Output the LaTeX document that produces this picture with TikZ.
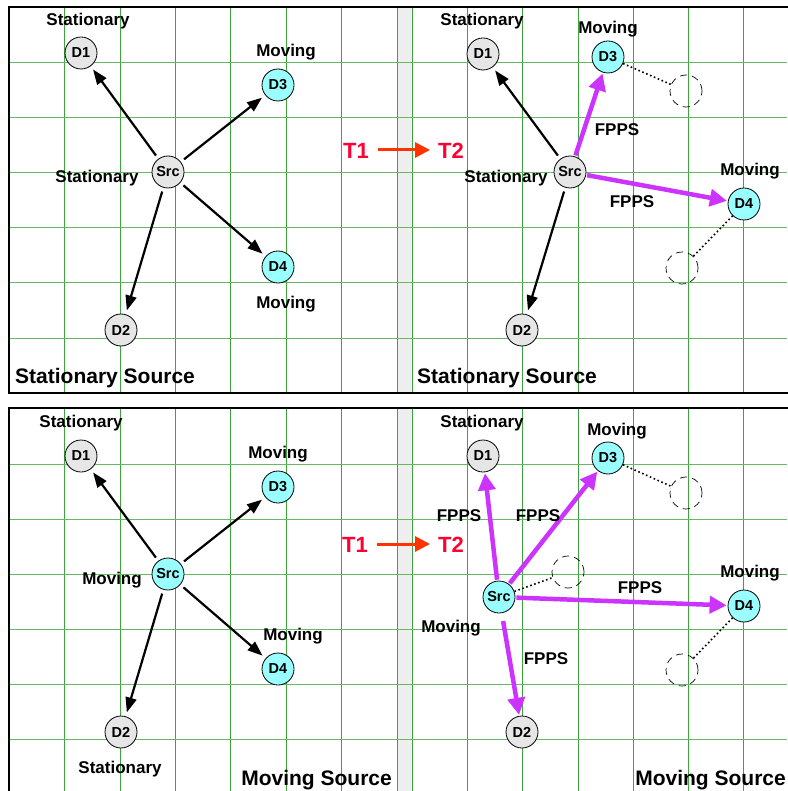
\documentclass[tikz,border=0pt]{standalone}
\usepackage{fontspec}
\setmainfont{Liberation Sans}
\usetikzlibrary{arrows.meta}
\definecolor{gridv}{RGB}{60,165,60}
\definecolor{gridh}{RGB}{100,185,100}
\definecolor{cyanfill}{RGB}{153,255,255}
\definecolor{grayfill}{RGB}{230,230,230}
\definecolor{fpps}{RGB}{204,51,255}
\definecolor{tred}{RGB}{255,0,51}
\definecolor{tarrow}{RGB}{255,51,0}
\definecolor{barfill}{RGB}{238,238,238}
\tikzset{
  dev/.style={circle,draw=black,line width=0.8pt,minimum size=32pt,inner sep=0pt,font=\bfseries\fontsize{14.5}{16}\selectfont},
  statdev/.style={dev,fill=grayfill},
  movdev/.style={dev,fill=cyanfill},
  ghost/.style={circle,draw=black,line width=0.7pt,dash pattern=on 7pt off 5pt,minimum size=32pt,inner sep=0pt},
  lbl/.style={font=\bfseries\fontsize{17}{19}\selectfont,inner sep=0pt},
  biglbl/.style={font=\bfseries\fontsize{21}{23}\selectfont,inner sep=0pt},
  tlbl/.style={font=\bfseries\fontsize{22}{24}\selectfont,text=tred,inner sep=0pt},
  link/.style={-{Triangle[length=15pt,width=11pt]},line width=2.2pt,shorten <=4pt,shorten >=4pt},
  fastlink/.style={-{Triangle[length=17pt,width=17pt]},draw=fpps,line width=4.5pt,shorten <=1pt,shorten >=1pt},
  trail/.style={line width=1.6pt,dash pattern=on 1.6pt off 2.6pt},
  timearrow/.style={-{Triangle[length=15pt,width=15pt]},draw=tarrow,line width=3pt},
  frame/.style={line width=2.5pt,line cap=rect}
}
\begin{document}
\begin{tikzpicture}[x=1pt,y=-1pt]
\useasboundingbox (0,0) rectangle (787,791);
% gray bars
\fill[barfill] (397,7) rectangle (412,393);
\fill[barfill] (397,408) rectangle (412,791);
% grid
\foreach \x in {64.5,120.5,175.5,230.5,286.5,341.5,397.5,412.5,467.5,522.5,578.5,633.5,688.5,743.5}{
  \draw[gridv,line width=1.1pt] (\x,7) -- (\x,393);
  \draw[gridv,line width=1.1pt] (\x,408) -- (\x,791);
}
\foreach \y in {62.5,117.5,172.5,227.5,282.5,338.5}{
  \draw[gridh,line width=1.3pt] (9,\y) -- (787,\y);
}
\foreach \y in {464.5,519.5,574.5,629.5,684.5,739.5}{
  \draw[gridh,line width=1.3pt] (9,\y) -- (787,\y);
}
% frames
\draw[frame] (787,7) -- (9,7) -- (9,393) -- (787,393);
\draw[frame] (787,408) -- (9,408) -- (9,791);

% ===== top-left
\node[statdev] (a1) at (81,53) {D1};
\node[movdev] (a3) at (278,85) {D3};
\node[statdev] (as) at (168,172) {Src};
\node[movdev] (a4) at (278,267) {D4};
\node[statdev] (a2) at (121,330) {D2};
\draw[link] (as) -- (a1);
\draw[link] (as) -- (a3);
\draw[link] (as) -- (a4);
\draw[link] (as) -- (a2);
\node[lbl] (al1) at (88,21) {Stationary};
\node[lbl] (al3) at (286,52) {Moving};
\node[lbl] (als) at (97,178) {Stationary};
\node[lbl] (al4) at (286,304) {Moving};
\node[biglbl,anchor=west] (atitle) at (15,378) {Stationary Source};

% time arrow top
\node[tlbl] (t1a) at (356,151) {T1};
\node[tlbl] (t2a) at (451,151) {T2};
\draw[timearrow] (t1a.east) ++(9,-1) coordinate (ta0) -- (430,150) coordinate (ta1);

% ===== top-right
\node[statdev] (b1) at (483,54) {D1};
\node[movdev] (b3) at (608,57) {D3};
\node[ghost] (bg1) at (686,91) {};
\node[statdev] (bs) at (570,172) {Src};
\node[movdev] (b4) at (744,204) {D4};
\node[ghost] (bg2) at (682,268) {};
\node[statdev] (b2) at (522,330) {D2};
\draw[link] (bs) -- (b1);
\draw[link] (bs) -- (b2);
\draw[fastlink] (bs) -- (b3);
\draw[fastlink] (bs) -- (b4);
\draw[trail] (b3) -- (bg1);
\draw[trail] (b4) -- (bg2);
\node[lbl] (bl1) at (482,21) {Stationary};
\node[lbl] (bl3) at (608,29) {Moving};
\node[lbl] (bf3) at (617,130) {FPPS};
\node[lbl] (bls) at (506,178) {Stationary};
\node[lbl] (bl4) at (750,171) {Moving};
\node[lbl] (bf4) at (632,202) {FPPS};
\node[biglbl,anchor=west] (btitle) at (417,378) {Stationary Source};

% ===== bottom-left
\node[statdev] (c1) at (81,456) {D1};
\node[movdev] (c3) at (278,487) {D3};
\node[movdev] (cs) at (168,574) {Src};
\node[movdev] (c4) at (278,669) {D4};
\node[statdev] (c2) at (121,732) {D2};
\draw[link] (cs) -- (c1);
\draw[link] (cs) -- (c3);
\draw[link] (cs) -- (c4);
\draw[link] (cs) -- (c2);
\node[lbl] (cl1) at (81,423) {Stationary};
\node[lbl] (cl3) at (278,454) {Moving};
\node[lbl] (cls) at (112,580) {Moving};
\node[lbl] (cl4) at (293,636) {Moving};
\node[lbl] (cl2) at (120,769) {Stationary};
\node[biglbl,anchor=east] (ctitle) at (392,780) {Moving Source};

% time arrow bottom
\node[tlbl] (t1b) at (355,545) {T1};
\node[tlbl] (t2b) at (451,545) {T2};
\draw[timearrow] (t1b.east) ++(9,-1) coordinate (tb0) -- (430,544) coordinate (tb1);

% ===== bottom-right
\node[statdev] (d1) at (483,456) {D1};
\node[movdev] (d3) at (608,458) {D3};
\node[ghost] (dg3) at (686,493) {};
\node[ghost] (dgs) at (568,572) {};
\node[movdev] (ds) at (499,597) {Src};
\node[movdev] (d4) at (744,606) {D4};
\node[ghost] (dg4) at (682,670) {};
\node[statdev] (d2) at (522,732) {D2};
\draw[fastlink] (ds) -- (d1);
\draw[fastlink] (ds) -- (d3);
\draw[fastlink] (ds) -- (d4);
\draw[fastlink,shorten <=8pt] (ds) -- (d2);
\draw[trail] (d3) -- (dg3);
\draw[trail] (ds) -- (dgs);
\draw[trail] (d4) -- (dg4);
\node[lbl] (dl1) at (482,423) {Stationary};
\node[lbl] (dl3) at (617,431) {Moving};
\node[lbl] (df1) at (459,516) {FPPS};
\node[lbl] (df3) at (538,516) {FPPS};
\node[lbl] (dl4) at (750,573) {Moving};
\node[lbl] (df4) at (640,588) {FPPS};
\node[lbl] (dls) at (451,628) {Moving};
\node[lbl] (df2) at (546,659) {FPPS};
\node[biglbl,anchor=east] (dtitle) at (786,780) {Moving Source};
\end{tikzpicture}
\end{document}
